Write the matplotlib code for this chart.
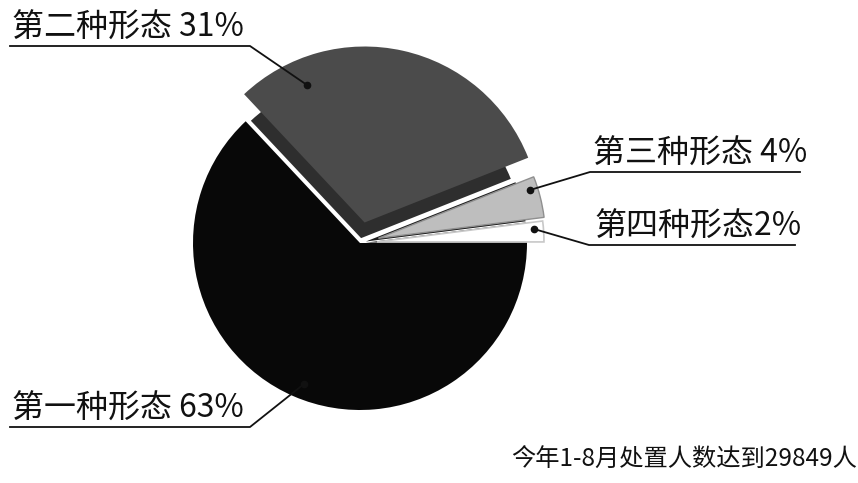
import matplotlib
matplotlib.use("Agg")
import matplotlib.pyplot as plt

plt.rcParams['font.family'] = ['Noto Sans CJK SC', 'DejaVu Sans']

# data
labels = ['第一种形态 63%', '第二种形态 31%', '第三种形态 4%', '第四种形态2%']
shares = [63, 31, 4, 2]
colors = ['#080808', '#4b4b4b', '#bebebe', '#ffffff']
shadow_colors = ['none', '#2e2e2e', '#1c1c1c', '#262626']
footer = '今年1-8月处置人数达到29849人'

# layout, in image pixels (y measured from the top)
W, H = 858, 483
center = (360, 243)
radius = 167
explode = [0, 21, 19, 17]          # pie() offsets are in data units (pixels here)
shadow_explode = [0, 5, 6, 6]
# dot on slice, elbow of leader, far end of underline, text anchor
leaders = [
    ((304, 384), (250, 427), (10, 427), (12, 425)),
    ((307, 85), (250, 46), (10, 46), (12, 44)),
    ((530, 190), (590, 172), (800, 172), (593, 170)),
    ((534, 229), (589, 245), (795, 245), (595, 243)),
]

fig = plt.figure(figsize=(W / 100, H / 100), dpi=100)
ax = fig.add_axes([0, 0, 1, 1])


def fy(y):
    return H - y


cxy = (center[0], fy(center[1]))

# dark "lifted" shadows under the exploded slices
shadows, _ = ax.pie(shares, colors=shadow_colors, explode=shadow_explode,
                    startangle=0, counterclock=False, radius=radius - 6,
                    center=cxy, wedgeprops=dict(linewidth=0))
for s in shadows:
    s.set_zorder(1.5)

wedges, _ = ax.pie(shares, colors=colors, explode=explode, startangle=0,
                   counterclock=False, radius=radius, center=cxy,
                   wedgeprops=dict(linewidth=0))
wedges[0].set_zorder(1)
wedges[1].set_radius(176)
wedges[2].set_edgecolor('#8f8f8f')
wedges[2].set_linewidth(1.0)
wedges[3].set_edgecolor('#c8c8c8')
wedges[3].set_linewidth(1.2)
for w in wedges[1:]:
    w.set_zorder(3)

# pie() sets its own limits, so set ours afterwards
ax.set_xlim(0, W)
ax.set_ylim(0, H)
ax.set_aspect('equal')
ax.axis('off')

for lab, (dot, elbow, end, txt) in zip(labels, leaders):
    ax.plot([dot[0], elbow[0], end[0]], [fy(dot[1]), fy(elbow[1]), fy(end[1])],
            color='#111111', lw=1.3, zorder=5)
    ax.plot(dot[0], fy(dot[1]), 'o', color='#111111', ms=4.5, zorder=6)
    ax.text(txt[0], fy(txt[1]), lab, fontsize=23, color='#111111',
            fontweight='light', ha='left', va='bottom', zorder=6)

ax.text(857, fy(460), footer, fontsize=17.5, color='#111111',
        fontweight='light', ha='right', va='center')

fig.savefig('out.png', dpi=100)
